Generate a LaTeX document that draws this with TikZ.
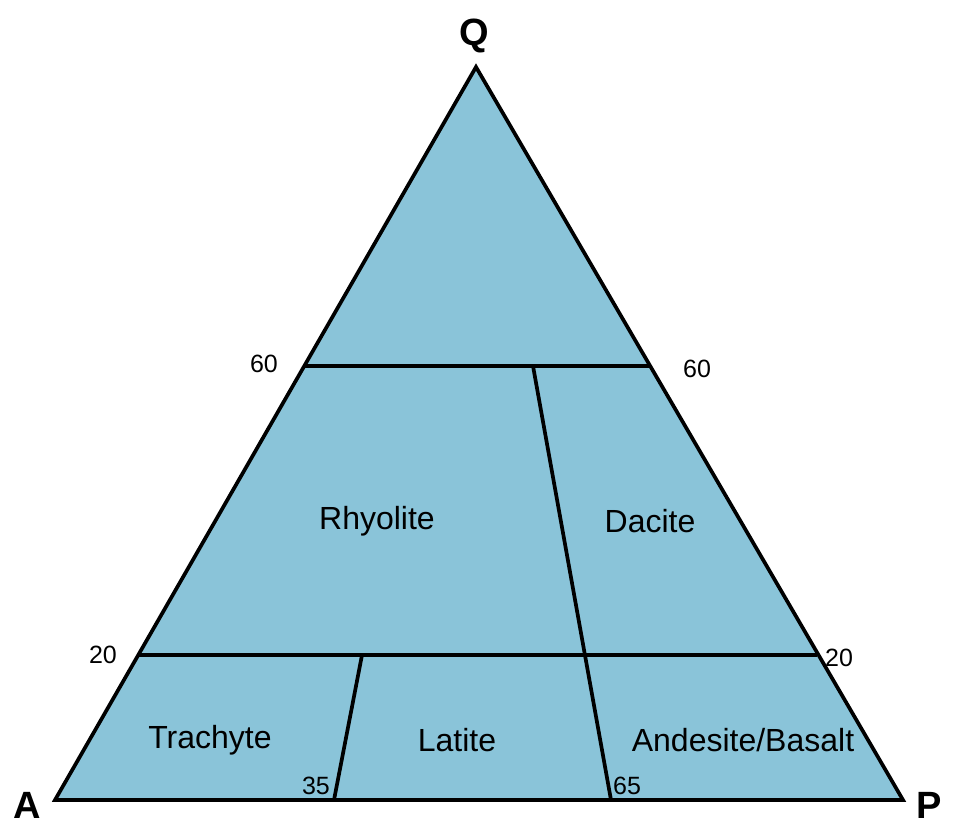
\documentclass[tikz,border=0pt]{standalone}
\usepackage{fontspec}
\setmainfont{Liberation Sans}
\definecolor{fillblue}{RGB}{138,196,217}
\begin{document}
\begin{tikzpicture}[x=1pt,y=-1pt,
  edge/.style={line width=3.7pt, line join=miter},
  vert/.style={font=\fontsize{38}{40}\selectfont\bfseries, inner sep=0pt, anchor=base},
  region/.style={font=\fontsize{32}{36}\selectfont},
  tick/.style={font=\fontsize{25}{28}\selectfont}]
\useasboundingbox (0,0) rectangle (953,826);
\coordinate (Qv) at (476,67);
\coordinate (Av) at (55,800);
\coordinate (Pv) at (903,800);
\coordinate (L60) at (305,366);
\coordinate (R60) at (649,366);
\coordinate (L20) at (139,655);
\coordinate (R20) at (817,655);
\coordinate (T65) at (533,366);
\coordinate (B65) at (611,800);
\coordinate (T35) at (362,655);
\coordinate (B35) at (334,800);
\fill[fillblue] (Qv) -- (Av) -- (Pv) -- cycle;
\draw[edge] (L60) -- (R60);
\draw[edge] (L20) -- (R20);
\draw[edge] (T65) -- (B65);
\draw[edge] (T35) -- (B35);
\draw[edge] (Qv) -- (Av) -- (Pv) -- cycle;
\node[vert] (q) at (474,46) {Q};
\node[vert] (a) at (27,818) {A};
\node[vert] (p) at (929,818) {P};
\node[tick] (l60) at (264,364) {60};
\node[tick] (r60) at (697,369) {60};
\node[tick] (l20) at (103,655) {20};
\node[tick] (r20) at (839,658) {20};
\node[tick] (n35) at (316,786) {35};
\node[tick] (n65) at (627,786) {65};
\node[region] (rh) at (377,521) {Rhyolite};
\node[region] (da) at (650,521) {Dacite};
\node[region] (tr) at (210,740) {Trachyte};
\node[region] (la) at (457,740) {Latite};
\node[region] (ab) at (743,740) {Andesite/Basalt};
\end{tikzpicture}
\end{document}
